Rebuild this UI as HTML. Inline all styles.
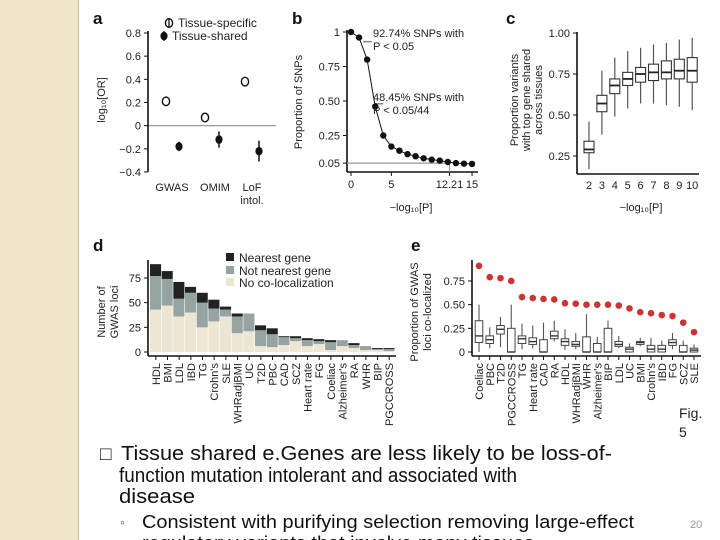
<!DOCTYPE html>
<html><head><meta charset="utf-8"><style>
html,body{margin:0;padding:0;background:#fff;}
svg{display:block;font-family:"Liberation Sans",Arial,sans-serif;}
</style></head><body>
<svg id="s" width="720" height="540" viewBox="0 0 720 540">
<rect x="0" y="0" width="78" height="540" fill="#efe4c8"/>
<line x1="78.5" y1="0" x2="78.5" y2="540" stroke="#c9bfa8"/>
<g id="g"></g>
<text x="679" y="418" font-size="14" fill="#222">Fig.</text>
<text x="679" y="437" font-size="14" fill="#222">5</text>
<text x="100" y="460" font-size="19" fill="#222">□</text>
<text x="121" y="460" font-size="20" fill="#111" textLength="491" lengthAdjust="spacingAndGlyphs">Tissue shared e.Genes are less likely to be loss-of-</text>
<text x="119" y="482" font-size="20" fill="#111" textLength="398" lengthAdjust="spacingAndGlyphs">function mutation intolerant and associated with</text>
<text x="119" y="503" font-size="20" fill="#111" textLength="76" lengthAdjust="spacingAndGlyphs">disease</text>
<text x="120" y="527" font-size="14" fill="#444">◦</text>
<text x="142" y="528" font-size="18" fill="#111" textLength="492" lengthAdjust="spacingAndGlyphs">Consistent with purifying selection removing large-effect</text>
<text x="142" y="549" font-size="18" fill="#111" textLength="392" lengthAdjust="spacingAndGlyphs">regulatory variants that involve many tissues</text>
<text x="690" y="528" font-size="11" fill="#999">20</text>
</svg>
<script>
// ---- panel a data ----
const aCats=["GWAS","OMIM","LoF"];
const aSpec=[0.21,0.07,0.38];
const aSpecErr=[0.04,0.04,0.035];
const aShared=[-0.18,-0.12,-0.22];
const aSharedErr=[0.04,0.07,0.09];
const aTicks=[0.8,0.6,0.4,0.2,0,-0.2,-0.4];
// ---- panel b data ----
const bX=[0,1,2,3,4,5,6,7,8,9,10,11,12,13,14,15];
const bY=[1.0,0.96,0.80,0.46,0.25,0.17,0.14,0.115,0.10,0.085,0.075,0.068,0.058,0.05,0.046,0.044];
const bYTicks=[1,0.75,0.5,0.25,0.05];
const bYTickLabels=["1","0.75","0.50","0.25","0.05"];
const bXTicks=[0,5,12.21,15];
// ---- panel c data ----
const cX=[2,3,4,5,6,7,8,9,10];
const cLo=[0.17,0.38,0.49,0.54,0.57,0.57,0.56,0.55,0.53];
const cQ1=[0.27,0.52,0.63,0.68,0.70,0.71,0.72,0.72,0.70];
const cMed=[0.29,0.57,0.68,0.72,0.75,0.76,0.76,0.77,0.77];
const cQ3=[0.34,0.62,0.72,0.76,0.79,0.81,0.83,0.84,0.85];
const cHi=[0.46,0.77,0.85,0.89,0.91,0.93,0.94,0.96,0.97];
const cYTicks=[1,0.75,0.5,0.25];
// ---- panel d data ----
const dCats=["HDL","BMI","LDL","IBD","TG","Crohn's","SLE","WHRadjBMI","UC","T2D","PBC","CAD","SCZ","Heart rate","FG","Coeliac","Alzheimer's","RA","WHR","BIP","PGCCROSS"];
const dNoColoc=[43,47,36,40,25,31,36,19,21,6,5,7,11,6,8,2,6,4,2,2,1];
const dNotNearest=[34,27,18,20,25,13,7,17,18,16,13,8,3,6,3,8,6,3,4,1,2];
const dNearest=[12,8,17,6,10,9,3,3,0,5,6,1,2,2,2,2,0,2,0,1,1];
const dYTicks=[0,25,50,75];
// ---- panel e data ----
const eCats=["Coeliac","PBC","T2D","PGCCROSS","TG","Heart rate","CAD","RA","HDL","WHRadjBMI","WHR","Alzheimer's","BIP","LDL","UC","BMI","Crohn's","IBD","FG","SCZ","SLE"];
const eDots=[0.91,0.79,0.78,0.75,0.58,0.57,0.56,0.555,0.515,0.51,0.50,0.50,0.50,0.49,0.46,0.42,0.41,0.39,0.38,0.31,0.21];
const eLo=[0,0.04,0.05,0,0.03,0.04,0,0.11,0.02,0.03,0,0,0,0.04,0,0.06,0,0,0.03,0,0];
const eQ1=[0.10,0.09,0.19,0,0.09,0.08,0,0.14,0.07,0.06,0,0,0,0.06,0,0.08,0,0,0.07,0,0];
const eMed=[0.17,0.13,0.24,0,0.14,0.11,0,0.17,0.11,0.08,0,0,0,0.08,0.03,0.10,0.03,0.03,0.10,0,0.02];
const eQ3=[0.33,0.17,0.28,0.25,0.17,0.15,0.13,0.22,0.14,0.11,0.16,0.09,0.25,0.11,0.05,0.11,0.07,0.07,0.13,0.07,0.04];
const eHi=[0.50,0.26,0.37,0.50,0.30,0.28,0.31,0.33,0.24,0.20,0.40,0.16,0.33,0.17,0.09,0.15,0.15,0.12,0.20,0.12,0.08];
const eYTicks=[0,0.25,0.5,0.75];
const eYTickLabels=["0","0.25","0.50","0.75"];

const NS="http://www.w3.org/2000/svg";
const G=document.getElementById('g');
function el(tag,attrs,parent,txt){const e=document.createElementNS(NS,tag);for(const k in attrs)e.setAttribute(k,attrs[k]);if(txt!==undefined)e.textContent=txt;(parent||G).appendChild(e);return e;}
function grp(name){const g=el('g',{});


return g;}
const TXT="#222";

// panel labels
[["a",93,24],["b",292,24],["c",506,24],["d",93,251],["e",411,251]].forEach(p=>{
 const t=el('text',{x:p[1],y:p[2],'font-size':17,'font-weight':'bold',fill:'#111'},G,p[0]);
 
 
});

// ===== Panel a =====
(function(){
 const g=grp('panel-a-chart');
 const ay=v=>33+(0.8-v)*115.8;
 const specX=[166,205,245], shX=[179,219,259], labX=[172,215,252];
 el('line',{x1:148,y1:ay(0),x2:276,y2:ay(0),stroke:'#999','stroke-width':1.2},g);
 el('line',{x1:148,y1:ay(0.8)-2,x2:148,y2:ay(-0.4),stroke:'#111','stroke-width':1.6},g);
 aTicks.forEach(v=>{el('line',{x1:144,y1:ay(v),x2:148,y2:ay(v),stroke:'#111'},g);
  el('text',{x:141,y:ay(v)+4,'font-size':11,'text-anchor':'end',fill:TXT},g,v===0?'0':(v<0?'\u2212'+Math.abs(v).toFixed(1):v.toFixed(1)));});
 aCats.forEach((c,i)=>{
  el('line',{x1:specX[i],y1:ay(aSpec[i]+aSpecErr[i]),x2:specX[i],y2:ay(aSpec[i]-aSpecErr[i]),stroke:'#111','stroke-width':1.5},g);
  const o=el('ellipse',{cx:specX[i],cy:ay(aSpec[i]),rx:3.6,ry:4.3,fill:'#fff',stroke:'#111','stroke-width':1.4},g);
  
  
  el('line',{x1:shX[i],y1:ay(aShared[i]+aSharedErr[i]),x2:shX[i],y2:ay(aShared[i]-aSharedErr[i]),stroke:'#111','stroke-width':1.5},g);
  const d=el('ellipse',{cx:shX[i],cy:ay(aShared[i]),rx:3.6,ry:4.3,fill:'#111'},g);
  
  
  el('text',{x:labX[i],y:191,'font-size':11,'text-anchor':'middle',fill:TXT},g,c);
 });
 el('text',{x:252,y:204,'font-size':11,'text-anchor':'middle',fill:TXT},g,'intol.');
 el('text',{x:0,y:0,'font-size':11,'text-anchor':'middle',fill:TXT,transform:'translate(105,100) rotate(-90)'},g,'log₁₀[OR]');
 el('ellipse',{cx:169,cy:23,rx:3.6,ry:4.3,fill:'#fff',stroke:'#111','stroke-width':1.4},g);
 el('line',{x1:169,y1:18,x2:169,y2:28,stroke:'#111','stroke-width':1.3},g);
 el('text',{x:178,y:27,'font-size':12,fill:TXT},g,'Tissue-specific');
 el('ellipse',{cx:164,cy:36,rx:3.6,ry:4.3,fill:'#111'},g);
 el('line',{x1:164,y1:31,x2:164,y2:41,stroke:'#111','stroke-width':1.3},g);
 el('text',{x:172,y:40,'font-size':12,fill:TXT},g,'Tissue-shared');
})();

// ===== Panel b =====
(function(){
 const g=grp('panel-b-chart');
 const by=v=>32+(1-v)*138, bx=v=>351+v*8.07;
 el('line',{x1:347,y1:30,x2:347,y2:172,stroke:'#111','stroke-width':1.6},g);
 el('line',{x1:347,y1:172,x2:478,y2:172,stroke:'#111','stroke-width':1.6},g);
 el('polyline',{points:`347,${by(0.05)} ${bx(12.21)},${by(0.05)} ${bx(12.21)},172`,fill:'none',stroke:'#999','stroke-width':1.2},g);
 el('line',{x1:bx(1.5),y1:by(0.93),x2:bx(2.6),y2:by(0.93),stroke:'#888','stroke-width':1.5},g);
 el('line',{x1:bx(2.9),y1:by(0.48),x2:bx(4.0),y2:by(0.48),stroke:'#888','stroke-width':1.5},g);
 el('polyline',{points:bX.map((x,i)=>bx(x)+','+by(bY[i])).join(' '),fill:'none',stroke:'#111','stroke-width':1},g);
 bX.forEach((x,i)=>{const c=el('circle',{cx:bx(x),cy:by(bY[i]),r:3.2,fill:'#111'},g);
  
  });
 bYTicks.forEach((v,i)=>{el('line',{x1:343,y1:by(v),x2:347,y2:by(v),stroke:'#111'},g);
  el('text',{x:340,y:by(v)+4,'font-size':11,'text-anchor':'end',fill:TXT},g,bYTickLabels[i]);});
 bXTicks.forEach(v=>{el('line',{x1:bx(v),y1:172,x2:bx(v),y2:176,stroke:'#111'},g);
  el('text',{x:bx(v),y:188,'font-size':11,'text-anchor':'middle',fill:TXT},g,String(v));});
 el('text',{x:0,y:0,'font-size':11,'text-anchor':'middle',fill:TXT,transform:'translate(302,102) rotate(-90)'},g,'Proportion of SNPs');
 el('text',{x:411,y:211,'font-size':11,'text-anchor':'middle',fill:TXT},g,'−log₁₀[P]');
 el('text',{x:373,y:37,'font-size':11,fill:TXT},g,'92.74% SNPs with');
 el('text',{x:373,y:50,'font-size':11,fill:TXT},g,'P < 0.05');
 el('text',{x:373,y:101,'font-size':11,fill:TXT},g,'48.45% SNPs with');
 el('text',{x:373,y:114,'font-size':11,fill:TXT},g,'P < 0.05/44');
})();

// ===== Panel c =====
(function(){
 const g=grp('panel-c-chart');
 const cy=v=>33+(1-v)*164, cx=v=>589+(v-2)*12.9;
 el('line',{x1:577,y1:32,x2:577,y2:174,stroke:'#111','stroke-width':1.6},g);
 el('line',{x1:577,y1:174,x2:699,y2:174,stroke:'#111','stroke-width':1.6},g);
 cYTicks.forEach(v=>{el('line',{x1:573,y1:cy(v),x2:577,y2:cy(v),stroke:'#111'},g);
  el('text',{x:570,y:cy(v)+4,'font-size':11,'text-anchor':'end',fill:TXT},g,v.toFixed(2));});
 cX.forEach((x,i)=>{const X=cx(x);
  const b=el('g',{},g);
  
  
  el('line',{x1:X,y1:cy(cHi[i]),x2:X,y2:cy(cLo[i]),stroke:'#555','stroke-width':1.2},b);
  el('rect',{x:X-5,y:cy(cQ3[i]),width:10,height:cy(cQ1[i])-cy(cQ3[i]),fill:'#fff',stroke:'#333','stroke-width':1.1},b);
  el('line',{x1:X-5,y1:cy(cMed[i]),x2:X+5,y2:cy(cMed[i]),stroke:'#222','stroke-width':1.8},b);
  el('text',{x:X,y:189,'font-size':11,'text-anchor':'middle',fill:TXT},g,String(x));});
 el('text',{x:0,y:0,'font-size':11,'text-anchor':'middle',fill:TXT,transform:'translate(518,100) rotate(-90)'},g,'Proportion variants');
 el('text',{x:0,y:0,'font-size':11,'text-anchor':'middle',fill:TXT,transform:'translate(530,100) rotate(-90)'},g,'with top gene shared');
 el('text',{x:0,y:0,'font-size':11,'text-anchor':'middle',fill:TXT,transform:'translate(542,100) rotate(-90)'},g,'across tissues');
 el('text',{x:641,y:211,'font-size':11,'text-anchor':'middle',fill:TXT},g,'−log₁₀[P]');
})();

// ===== Panel d =====
(function(){
 const g=grp('panel-d-chart');
 const dy=v=>352-v*0.987, bw=11.67, x0=150;
 dCats.forEach((c,i)=>{
  const X=x0+i*bw;
  const a=dNoColoc[i], b=dNotNearest[i], n=dNearest[i];
  const r1=el('rect',{x:X,y:dy(a),width:bw-0.6,height:dy(0)-dy(a),fill:'#ede6d3'},g);
  
  
  const r2=el('rect',{x:X,y:dy(a+b),width:bw-0.6,height:dy(a)-dy(a+b),fill:'#95a3a2'},g);
  
  
  const r3=el('rect',{x:X,y:dy(a+b+n),width:bw-0.6,height:dy(a+b)-dy(a+b+n),fill:'#222'},g);
  
  
  el('line',{x1:X+bw/2,y1:356,x2:X+bw/2,y2:360,stroke:'#111'},g);
  el('text',{x:0,y:0,'font-size':11,'text-anchor':'end',fill:TXT,transform:`translate(${X+bw/2+4},363) rotate(-90)`},g,c);
 });
 el('line',{x1:148,y1:260,x2:148,y2:356,stroke:'#111','stroke-width':1.6},g);
 el('line',{x1:148,y1:356,x2:396,y2:356,stroke:'#111','stroke-width':1.6},g);
 dYTicks.forEach(v=>{el('line',{x1:144,y1:dy(v),x2:148,y2:dy(v),stroke:'#111'},g);
  el('text',{x:141,y:dy(v)+4,'font-size':11,'text-anchor':'end',fill:TXT},g,String(v));});
 el('text',{x:0,y:0,'font-size':11,'text-anchor':'middle',fill:TXT,transform:'translate(105,312) rotate(-90)'},g,'Number of');
 el('text',{x:0,y:0,'font-size':11,'text-anchor':'middle',fill:TXT,transform:'translate(118,312) rotate(-90)'},g,'GWAS loci');
 [['#222','Nearest gene',258],['#95a3a2','Not nearest gene',271],['#ede6d3','No co-localization',283]].forEach(l=>{
  el('rect',{x:226,y:l[2]-5,width:8,height:8,fill:l[0]},g);
  el('text',{x:239,y:l[2]+4,'font-size':12,fill:TXT},g,l[1]);});
})();

// ===== Panel e =====
(function(){
 const g=grp('panel-e-chart');
 const ey=v=>352-v*94.7, ex=i=>479+i*10.75;
 el('line',{x1:472,y1:260,x2:472,y2:356,stroke:'#111','stroke-width':1.6},g);
 el('line',{x1:472,y1:356,x2:701,y2:356,stroke:'#111','stroke-width':1.6},g);
 eYTicks.forEach((v,i)=>{el('line',{x1:468,y1:ey(v),x2:472,y2:ey(v),stroke:'#111'},g);
  el('text',{x:465,y:ey(v)+4,'font-size':11,'text-anchor':'end',fill:TXT},g,eYTickLabels[i]);});
 eCats.forEach((c,i)=>{const X=ex(i);
  const b=el('g',{},g);
  
  
  el('line',{x1:X,y1:ey(eHi[i]),x2:X,y2:ey(eLo[i]),stroke:'#555','stroke-width':1.1},b);
  el('rect',{x:X-3.8,y:ey(eQ3[i]),width:7.6,height:Math.max(1,ey(eQ1[i])-ey(eQ3[i])),fill:'#fff',stroke:'#444','stroke-width':1},b);
  el('line',{x1:X-3.8,y1:ey(eMed[i]),x2:X+3.8,y2:ey(eMed[i]),stroke:'#333','stroke-width':1.4},b);
  const d=el('circle',{cx:X,cy:ey(eDots[i]),r:3.3,fill:'#cc3333'},g);
  
  
  el('line',{x1:X,y1:356,x2:X,y2:360,stroke:'#111'},g);
  el('text',{x:0,y:0,'font-size':11,'text-anchor':'end',fill:TXT,transform:`translate(${X+4},363) rotate(-90)`},g,c);
 });
 el('text',{x:0,y:0,'font-size':11,'text-anchor':'middle',fill:TXT,transform:'translate(418,312) rotate(-90)'},g,'Proportion of GWAS');
 el('text',{x:0,y:0,'font-size':11,'text-anchor':'middle',fill:TXT,transform:'translate(431,312) rotate(-90)'},g,'loci co-localized');
})();
</script>
</body></html>
